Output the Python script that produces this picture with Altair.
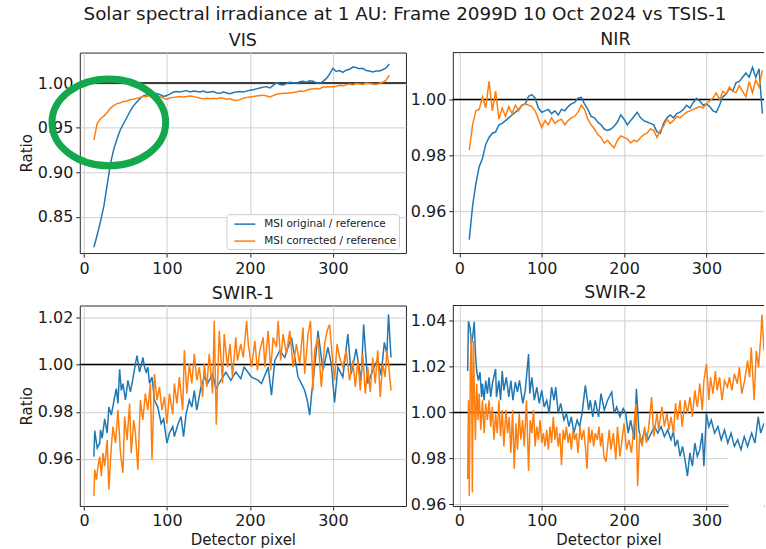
import altair as alt
import pandas as pd

ORIG = "MSI original / reference"
CORR = "MSI corrected / reference"
SERIES = [ORIG, CORR]
SERIES_COLORS = ["#1f77b4", "#ff7f0e"]

# VIS and NIR are sampled on a regular detector-pixel grid
GRID_X = list(range(12, 372, 4))

VIS_ORIG = [
    0.816, 0.830, 0.845, 0.862, 0.886, 0.910, 0.926, 0.938, 0.948, 0.955,
    0.962, 0.969, 0.975, 0.979, 0.983, 0.986, 0.987, 0.988, 0.989, 0.988,
    0.987, 0.985, 0.986, 0.988, 0.990, 0.9905, 0.990, 0.991, 0.9915, 0.990,
    0.991, 0.9905, 0.990, 0.991, 0.9895, 0.990, 0.9905, 0.989, 0.9885, 0.990,
    0.989, 0.988, 0.9895, 0.990, 0.9905, 0.990, 0.991, 0.992, 0.9925, 0.9935,
    0.9945, 0.9955, 0.996, 0.9945, 0.9975, 1.0005, 0.9985, 0.998, 0.9995, 1.001,
    1.0005, 0.9995, 1.0015, 1.002, 1.001, 1.0025, 1.002, 1.0005, 0.9995, 1.002,
    1.005, 1.010, 1.0165, 1.013, 1.014, 1.012, 1.0145, 1.0155, 1.018, 1.0175,
    1.016, 1.0165, 1.014, 1.0135, 1.0125, 1.0135, 1.0135, 1.015, 1.017, 1.0215,
]
VIS_CORR = [
    0.936, 0.955, 0.960, 0.963, 0.967, 0.972, 0.975, 0.977, 0.978, 0.9795,
    0.980, 0.9815, 0.982, 0.983, 0.984, 0.985, 0.985, 0.9865, 0.986, 0.9855,
    0.985, 0.983, 0.982, 0.9835, 0.984, 0.9845, 0.985, 0.9845, 0.985, 0.9855,
    0.985, 0.984, 0.983, 0.9825, 0.983, 0.9825, 0.983, 0.9825, 0.9835, 0.983,
    0.982, 0.9825, 0.981, 0.9805, 0.9815, 0.983, 0.984, 0.9845, 0.985, 0.9855,
    0.986, 0.9865, 0.9855, 0.9845, 0.986, 0.9875, 0.988, 0.9885, 0.9885, 0.989,
    0.9895, 0.990, 0.991, 0.9905, 0.992, 0.993, 0.9935, 0.994, 0.9935, 0.9955,
    0.9955, 0.996, 0.996, 0.9965, 0.9975, 0.997, 0.998, 0.999, 0.998, 0.9995,
    0.999, 0.9985, 1.000, 0.9995, 0.999, 0.9985, 0.9995, 1.001, 1.003, 1.009,
]
NIR_ORIG = [
    0.950, 0.962, 0.970, 0.976, 0.979, 0.984, 0.9865, 0.988, 0.9885, 0.991,
    0.9915, 0.9925, 0.9935, 0.9945, 0.9955, 0.9965, 0.998, 0.9985, 1.0012, 1.0018,
    1.0005, 0.997, 0.9955, 0.996, 0.9965, 0.995, 0.996, 0.9945, 0.9965, 0.996,
    0.9975, 0.9985, 0.999, 1.0005, 1.0008, 0.9985, 0.9965, 0.994, 0.9935, 0.992,
    0.991, 0.9895, 0.989, 0.9895, 0.9905, 0.992, 0.9945, 0.993, 0.991, 0.9925,
    0.994, 0.9955, 0.9935, 0.9925, 0.992, 0.9915, 0.991, 0.9885, 0.988, 0.9915,
    0.9935, 0.9945, 0.9935, 0.995, 0.9955, 0.9965, 0.998, 0.997, 0.999, 1.0005,
    0.9995, 0.998, 0.9985, 0.9975, 0.996, 0.9955, 0.998, 1.001, 1.002, 1.004,
    1.003, 1.006, 1.0065, 1.008, 1.0095, 1.008, 1.0115, 1.008, 1.011, 0.995,
]
NIR_CORR = [
    0.982, 0.991, 0.996, 0.9965, 1.001, 0.997, 1.0065, 0.996, 1.003, 0.993,
    0.997, 0.994, 0.9975, 0.995, 0.998, 0.996, 0.998, 0.9985, 0.998, 0.9975,
    0.996, 0.993, 0.990, 0.9925, 0.991, 0.9935, 0.9915, 0.9925, 0.993, 0.991,
    0.9925, 0.9935, 0.994, 0.9955, 0.998, 0.9965, 0.993, 0.991, 0.9895, 0.9875,
    0.9865, 0.9845, 0.9855, 0.984, 0.9828, 0.9855, 0.987, 0.9865, 0.986, 0.9845,
    0.9855, 0.985, 0.9865, 0.9875, 0.988, 0.9895, 0.989, 0.9865, 0.989, 0.9905,
    0.993, 0.9915, 0.9925, 0.994, 0.9935, 0.9945, 0.9955, 0.996, 0.9965, 0.997,
    0.9975, 0.997, 0.9985, 0.9995, 1.0006, 1.0024, 1.000, 1.003, 1.002, 1.0045,
    1.003, 1.0025, 1.005, 1.003, 1.001, 1.0065, 1.0025, 1.007, 1.0045, 1.0105,
]

# SWIR bands are noisy: values listed at the pixels where they were read
SWIR1_ORIG_X = [
    12, 13, 16, 19, 20, 22, 25, 28, 30, 33,
    37, 39, 41, 43, 45, 47, 50, 53, 56, 59,
    62, 64, 67, 69, 71, 73, 75, 77, 79, 82,
    85, 89, 93, 96, 100, 103, 107, 109, 113, 117,
    120, 123, 127, 130, 133, 136, 141, 145, 149, 155,
    159, 165, 171, 177, 183, 189, 193, 202, 210, 214,
    222, 226, 230, 236, 242, 250, 258, 262, 266, 269,
    272, 274, 280, 282, 288, 294, 298, 302, 306, 312,
    318, 322, 328, 334, 337, 342, 348, 354, 358, 362,
    365, 367, 370,
]
SWIR1_ORIG = [
    0.961, 0.972, 0.9646, 0.9667, 0.9723, 0.9688, 0.977, 0.971, 0.982, 0.9786,
    0.9863, 0.9898, 0.9835, 0.998, 0.989, 0.9919, 0.985, 0.9933, 0.9884, 0.994,
    1.0003, 1.0038, 0.9968, 0.9996, 1.003, 0.9989, 0.9968, 0.9989, 0.992, 0.9947,
    0.985, 0.982, 0.975, 0.977, 0.9667, 0.971, 0.9737, 0.9695, 0.9744, 0.978,
    0.9695, 0.979, 0.985, 0.982, 0.989, 0.9807, 0.9905, 0.9947, 0.992, 0.996,
    0.9898, 0.9933, 0.9968, 0.9933, 0.9968, 0.994, 0.9989, 0.9947, 0.9933, 0.992,
    0.9989, 0.987, 1.0017, 1.006, 1.003, 1.0115, 0.9947, 0.992, 0.989, 0.985,
    0.9786, 0.9863, 1.006, 1.0143, 0.9975, 1.0073, 1.0003, 0.984, 0.9989, 0.9947,
    1.0129, 0.996, 1.0066, 0.9933, 1.017, 0.992, 0.9975, 1.0024, 0.9954, 1.0094,
    1.0045, 1.0213, 1.003,
]
SWIR1_CORR_X = [
    12, 13, 15, 17, 19, 21, 23, 25, 28, 30,
    33, 35, 38, 41, 44, 47, 49, 52, 55, 57,
    60, 62, 65, 68, 71, 74, 77, 80, 82, 85,
    88, 91, 94, 97, 100, 103, 107, 109, 112, 115,
    119, 121, 124, 127, 130, 133, 136, 139, 143, 145,
    148, 151, 155, 157, 159.5, 163, 167, 169, 173, 176,
    179, 183, 185, 189, 192, 196, 198, 202, 206, 209,
    212, 216, 218, 222, 225, 228, 232, 234, 237, 240,
    244, 248, 252, 256, 260, 264, 266, 270, 273, 276,
    278, 282, 286, 290, 293, 296, 299, 302, 305, 308,
    312, 316, 320, 324, 327, 330, 333, 336, 339, 342,
    345, 348, 351, 354, 357, 360, 363, 365, 367, 370,
]
SWIR1_CORR = [
    0.9443, 0.9555, 0.9513, 0.957, 0.961, 0.9527, 0.9625, 0.957, 0.968, 0.947,
    0.9653, 0.9737, 0.9667, 0.9807, 0.9625, 0.9541, 0.978, 0.968, 0.9835, 0.9625,
    0.9765, 0.971, 0.9555, 0.985, 0.9765, 0.9877, 0.9807, 0.992, 0.9597, 0.996,
    0.985, 0.9905, 0.9807, 0.9863, 0.975, 0.9877, 0.979, 0.992, 0.9835, 0.9947,
    0.9807, 1.006, 0.9877, 1.0003, 0.992, 1.0045, 0.9933, 0.9989, 0.9863, 1.0003,
    0.9905, 1.0045, 0.9877, 1.0185, 0.9745, 1.0143, 0.992, 1.0129, 0.9989, 1.0087,
    0.9947, 1.0115, 1.0017, 1.0087, 1.003, 1.0185, 1.0087, 0.9989, 1.010, 0.9975,
    1.006, 1.0115, 0.9989, 1.0143, 0.9975, 1.0115, 1.0073, 1.0185, 1.0017, 1.0129,
    1.0045, 1.0143, 0.9989, 1.0087, 1.0003, 1.0157, 0.996, 1.0129, 1.0185, 0.989,
    1.006, 1.0115, 0.9905, 1.0087, 1.0143, 1.017, 1.0045, 0.9933, 1.0087, 1.003,
    0.9989, 1.006, 0.9933, 1.0017, 0.9905, 1.0017, 0.989, 1.0045, 0.9877, 0.9989,
    0.9884, 1.003, 0.992, 1.006, 0.9863, 1.0003, 0.9947, 1.006, 1.0003, 0.989,
]
SWIR2_ORIG_X = [
    10, 11, 13, 14.5, 16, 18, 19.5, 21, 23, 25,
    27, 28, 30, 32, 34, 36, 38, 40, 44, 45,
    48, 50, 52, 54, 57, 60, 62.5, 65, 68, 70.5,
    73, 77, 80, 84, 85.5, 88, 91, 94, 97, 100,
    103, 106, 109, 112, 115, 117, 120, 123, 127, 130,
    133, 136, 139, 143, 146, 149, 153, 157, 159, 162,
    165, 169, 172, 176, 180, 185, 188, 191, 195, 199,
    202, 205, 208, 212.5, 215, 218, 221, 225, 229, 233,
    237, 241, 245, 249, 253, 257, 260, 262, 265, 268,
    271, 274, 277, 280, 283, 286, 289, 292, 295, 297,
    300, 303, 306, 310, 314, 318, 322, 326, 330, 334,
    338, 342, 346, 350, 355, 359, 363, 366, 370,
]
SWIR2_ORIG = [
    1.018, 1.0397, 1.0368, 1.0297, 1.0325, 1.0394, 1.0254, 1.018, 1.0139, 1.0175,
    1.0067, 1.0125, 1.0053, 1.0139, 1.0082, 1.0153, 1.0067, 1.0125, 1.0189, 1.0067,
    1.0139, 1.0053, 1.018, 1.0096, 1.0153, 1.0067, 1.0139, 1.0053, 1.0132, 1.0089,
    1.0139, 1.0039, 1.0096, 1.0254, 1.0082, 1.0153, 1.0053, 1.011, 1.0039, 1.0096,
    1.0024, 1.0053, 0.9996, 1.011, 1.0053, 1.011, 0.9996, 1.0039, 0.9967, 0.9996,
    0.9938, 0.9981, 0.991, 0.9967, 0.9938, 0.9996, 1.0118, 1.001, 1.0053, 0.9981,
    1.0053, 0.9981, 1.0082, 1.001, 1.0053, 1.0089, 0.9996, 1.0024, 0.9981, 1.0017,
    0.9996, 0.991, 0.9967, 0.9881, 1.0103, 0.9924, 0.9867, 0.9924, 0.9881, 0.991,
    0.9938, 0.991, 0.9938, 0.9895, 0.9924, 0.9881, 0.9917, 0.9852, 0.9881, 0.9809,
    0.9852, 0.9795, 0.9723, 0.9824, 0.9766, 0.9867, 0.9809, 0.9838, 0.991, 0.9766,
    0.9996, 0.9938, 0.9967, 0.991, 0.9938, 0.9881, 0.9924, 0.9867, 0.991, 0.9852,
    0.9881, 0.9838, 0.9895, 0.9852, 0.991, 0.9867, 0.9981, 0.991, 0.9953,
]
SWIR2_CORR_X = [
    10, 11, 12, 13.3, 14.5, 15.7, 17, 18, 19.4, 21,
    22.6, 24, 26, 28, 30, 32, 34, 36, 38, 40,
    42, 44, 46, 48, 50, 52, 54, 56.5, 58.5, 60.5,
    62.5, 64.6, 66.6, 68.6, 70.6, 72.6, 74.7, 76.7, 78.7, 81.5,
    84, 86, 88, 90, 92, 94, 96, 98, 100, 102,
    104, 106, 108, 110, 112, 114, 116, 118, 120, 122,
    124, 126, 128, 130, 132, 134, 136, 138, 140, 142,
    144, 146.5, 148.5, 151, 153, 155, 157, 159, 161, 163,
    165, 167.5, 169.5, 171.5, 173.5, 175.5, 178, 182, 184, 187,
    190, 192, 195, 198, 200, 203, 206, 209, 212.5, 214.5,
    216.5, 219, 222, 225, 227, 230, 233.5, 236, 240, 242,
    246, 249, 252, 254.5, 257, 260, 262.5, 265, 268, 270.6,
    274, 277, 280, 283, 286, 289, 292, 295, 297, 300,
    303, 305, 308, 311, 313, 316, 319, 322, 325.5, 328,
    331, 334, 337.6, 340, 343, 346.5, 350, 352.5, 354.5, 358,
    360.6, 363.4, 366, 367.5, 370,
]
SWIR2_CORR = [
    0.971, 1.0053, 0.9637, 1.0196, 1.034, 0.9652, 1.0311, 1.0125, 0.9881, 1.0125,
    0.9967, 1.0082, 0.9924, 1.0053, 0.991, 1.0039, 0.9967, 1.0053, 0.9938, 1.0024,
    0.9881, 0.9996, 0.991, 1.0053, 0.9895, 1.001, 0.9852, 1.001, 0.991, 0.9981,
    0.9824, 1.001, 0.9755, 0.9953, 0.9838, 0.9996, 0.9881, 0.9967, 0.9852, 1.0053,
    0.9745, 0.9967, 0.991, 1.001, 0.9852, 0.9938, 0.9881, 0.9967, 0.9867, 0.991,
    0.9852, 0.9924, 0.9838, 0.9938, 0.9867, 0.9981, 0.9881, 0.9938, 0.9852, 0.991,
    0.977, 0.9924, 0.9881, 0.9938, 0.9867, 0.991, 0.9838, 0.9924, 0.9881, 0.991,
    0.9824, 0.9938, 0.9881, 0.9924, 0.9852, 0.9755, 0.9938, 0.9867, 0.9924, 0.9852,
    0.991, 0.9881, 0.9938, 0.9852, 0.991, 0.9809, 0.9786, 0.9924, 0.9838, 0.991,
    0.9795, 0.9938, 0.9809, 0.9895, 0.9953, 0.9838, 0.9881, 0.9824, 0.9967, 1.0039,
    0.968, 0.991, 0.9852, 0.9938, 0.9867, 0.9938, 1.0067, 0.9895, 0.9996, 0.9924,
    1.0024, 0.9938, 0.9996, 0.9924, 0.9981, 0.991, 1.0039, 0.9967, 1.0053, 0.9938,
    1.0053, 0.9996, 1.0067, 0.9981, 1.0096, 1.0024, 1.0125, 1.001, 1.0139, 1.0211,
    1.0053, 1.0153, 1.0082, 1.018, 1.0096, 1.0153, 1.0053, 1.0139, 1.011, 1.0153,
    1.0096, 1.0168, 1.0125, 1.0196, 1.0082, 1.0139, 1.0225, 1.0153, 1.0282, 1.0053,
    1.0268, 1.0196, 1.0325, 1.0426, 1.0268,
]

FONT = "DejaVu Sans"
INK = "#1a1a1a"
FRAME = "#262626"
GRID = "#cfcfcf"
HIGHLIGHT = "#13a84b"

LEFT_W, RIGHT_W, PANEL_H = 327, 312, 201
LEFT_XDOM = [-5, 388]
RIGHT_XDOM = [-8, 370]

# ellipse outline drawn as a custom point symbol (unit box, 4 cubic arcs)
ELLIPSE = ("M 1 0 C 1 0.4214 0.5523 0.763 0 0.763 C -0.5523 0.763 -1 0.4214 -1 0 "
           "C -1 -0.4214 -0.5523 -0.763 0 -0.763 C 0.5523 -0.763 1 -0.4214 1 0 Z")
# long legend line on a compact symbol box
LEGEND_LINE = "M -0.29 0 L 2.71 0"


def x_axis(with_title, draw_domain):
    kw = dict(values=[0, 100, 200, 300], format="d", labelFlush=False,
              grid=True, domain=draw_domain)
    if with_title:
        return alt.Axis(title="Detector pixel", titlePadding=4, **kw)
    return alt.Axis(title=None, **kw)


def y_axis(ticks, with_title, draw_domain):
    kw = dict(values=ticks, format=".2f", grid=True, domain=draw_domain)
    if with_title:
        return alt.Axis(title="Ratio", titlePadding=3, **kw)
    return alt.Axis(title=None, **kw)


def band_panel(name, ox, oy, cx, cy, y_domain, y_ticks, left, bottom,
               legend=None, extras=(), title_dx=0):
    width = LEFT_W if left else RIGHT_W
    x_dom = LEFT_XDOM if left else RIGHT_XDOM
    x = alt.X("pixel:Q", scale=alt.Scale(domain=x_dom, nice=False, zero=False),
              axis=x_axis(bottom, not left))
    y = alt.Y("ratio:Q", scale=alt.Scale(domain=y_domain, nice=False, zero=False),
              axis=y_axis(y_ticks, left, not left))
    color = alt.Color("series:N", scale=alt.Scale(domain=SERIES, range=SERIES_COLORS),
                      legend=legend)
    unity = alt.Chart(pd.DataFrame({"ratio": [1.0]})).mark_rule(
        color="black", strokeWidth=1.5).encode(y=y)
    orig = alt.Chart(pd.DataFrame({"pixel": ox, "ratio": oy, "series": ORIG})).mark_line(
        strokeWidth=1.5, clip=True).encode(x=x, y=y, color=color)
    corr = alt.Chart(pd.DataFrame({"pixel": cx, "ratio": cy, "series": CORR})).mark_line(
        strokeWidth=1.5, clip=True).encode(x=x, y=y, color=color)
    layers = [unity, orig, corr] + [e(x, y) for e in extras]
    props = dict(width=width, height=PANEL_H, title=alt.TitleParams(name, dx=title_dx))
    if not left:
        props["view"] = alt.ViewBackground(stroke="transparent")
    return alt.layer(*layers).properties(**props)


def top_edge(x, y):
    return alt.Chart(pd.DataFrame({"k": [0]})).mark_rule(
        color=FRAME, strokeWidth=1).encode(x=alt.value(0), x2=alt.value("width"), y=alt.value(0))


def vis_highlight(x, y):
    return alt.Chart(pd.DataFrame({"pixel": [30], "ratio": [0.9559]})).mark_point(
        shape=ELLIPSE, size=12996, filled=False, color=HIGHLIGHT, strokeWidth=7,
        opacity=1, clip=False).encode(x=x, y=y)


def swir2_blank(x, y):
    return alt.Chart(pd.DataFrame({"pixel": [327], "pixel2": [370],
                                   "ratio": [0.9829], "ratio2": [0.9582]})).mark_rect(
        color="white", clip=False).encode(x=x, x2="pixel2", y=y, y2="ratio2")


legend = alt.Legend(title=None, orient="none", legendX=147, legendY=162,
                    fillColor="white", strokeColor="#cccccc", padding=2, cornerRadius=3,
                    symbolType=LEGEND_LINE, symbolSize=196, symbolStrokeWidth=1.5,
                    labelFont=FONT, labelFontSize=10.5, labelColor=INK, rowPadding=3,
                    labelOffset=20)

vis = band_panel("VIS", GRID_X, VIS_ORIG, GRID_X, VIS_CORR, [0.8095, 1.0342],
                 [0.85, 0.90, 0.95, 1.00], True, False, legend=legend,
                 extras=(vis_highlight,))
nir = band_panel("NIR", GRID_X, NIR_ORIG, GRID_X, NIR_CORR, [0.9452, 1.0168],
                 [0.96, 0.98, 1.00], False, False, extras=(top_edge,), title_dx=7)
swir1 = band_panel("SWIR-1", SWIR1_ORIG_X, SWIR1_ORIG, SWIR1_CORR_X, SWIR1_CORR,
                   [0.9401, 1.0250], [0.96, 0.98, 1.00, 1.02], True, True)
swir2 = band_panel("SWIR-2", SWIR2_ORIG_X, SWIR2_ORIG, SWIR2_CORR_X, SWIR2_CORR,
                   [0.9593, 1.0465], [0.96, 0.98, 1.00, 1.02, 1.04], False, True,
                   extras=(swir2_blank, top_edge), title_dx=7)

chart = alt.concat(
    vis, nir, swir1, swir2, columns=2, spacing={"row": 6.6, "column": 1},
    title=alt.TitleParams("Solar spectral irradiance at 1 AU: Frame 2099D 10 Oct 2024 vs TSIS-1",
                          fontSize=18.4, dx=13, offset=7),
    padding={"left": 18, "top": 4, "right": 0, "bottom": 2},
    background="white",
).resolve_scale(
    x="independent", y="independent", color="independent"
).resolve_legend(color="independent").configure_view(
    stroke=FRAME, strokeWidth=1
).configure_axis(
    labelFont=FONT, titleFont=FONT, labelFontSize=16, titleFontSize=15,
    titleFontWeight="normal", labelColor=INK, titleColor=INK, tickColor=FRAME,
    domainColor=FRAME, tickSize=4, labelPadding=3, gridColor=GRID, gridWidth=1,
    tickWidth=1, domainWidth=1,
).configure_title(
    font=FONT, fontSize=17.5, fontWeight="normal", color=INK, offset=3.3, anchor="middle"
)

chart.save("out.html", embed_options={"renderer": "svg", "actions": False})
